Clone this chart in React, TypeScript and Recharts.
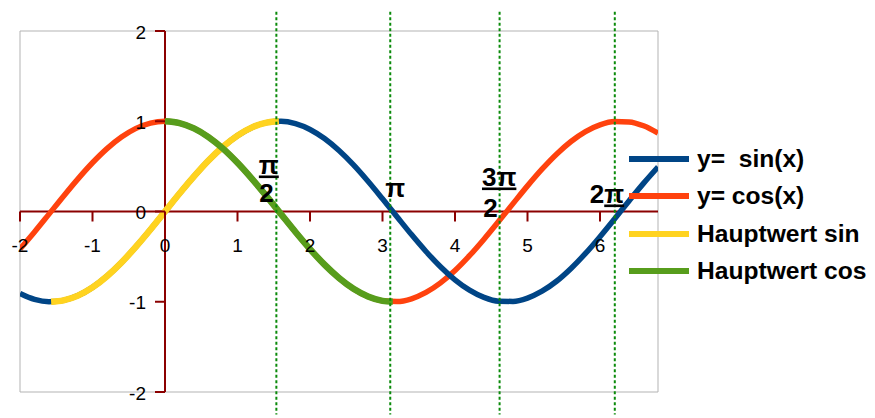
import React from 'react';
import {
  LineChart,
  Line,
  XAxis,
  YAxis,
  CartesianGrid,
  ReferenceLine,
  ReferenceDot,
  Legend,
} from 'recharts';

// Sample points of the full curves
const xValues = [
  -2.0, -1.8, -1.6, -1.4, -1.2, -1.0, -0.8, -0.6, -0.4, -0.2,
  0.0, 0.2, 0.4, 0.6, 0.8, 1.0, 1.2, 1.4, 1.6, 1.8,
  2.0, 2.2, 2.4, 2.6, 2.8, 3.0, 3.2, 3.4, 3.6, 3.8,
  4.0, 4.2, 4.4, 4.6, 4.8, 5.0, 5.2, 5.4, 5.6, 5.8,
  6.0, 6.2, 6.4, 6.6, 6.8,
];
const sinValues = [
  -0.909, -0.974, -1.0, -0.985, -0.932, -0.841, -0.717, -0.565, -0.389, -0.199,
  0.0, 0.199, 0.389, 0.565, 0.717, 0.841, 0.932, 0.985, 1.0, 0.974,
  0.909, 0.808, 0.675, 0.516, 0.335, 0.141, -0.058, -0.256, -0.443, -0.612,
  -0.757, -0.872, -0.952, -0.994, -0.996, -0.959, -0.883, -0.773, -0.631, -0.465,
  -0.279, -0.083, 0.117, 0.312, 0.494,
];
const cosValues = [
  -0.416, -0.227, -0.029, 0.17, 0.362, 0.54, 0.697, 0.825, 0.921, 0.98,
  1.0, 0.98, 0.921, 0.825, 0.697, 0.54, 0.362, 0.17, -0.029, -0.227,
  -0.416, -0.589, -0.737, -0.857, -0.942, -0.99, -0.998, -0.967, -0.897, -0.791,
  -0.654, -0.49, -0.307, -0.112, 0.087, 0.284, 0.469, 0.635, 0.776, 0.886,
  0.96, 0.997, 0.993, 0.95, 0.869,
];

// Principal branches
const hwSinX = [-1.571, -1.4, -1.2, -1.0, -0.8, -0.6, -0.4, -0.2, 0.0, 0.2, 0.4, 0.6, 0.8, 1.0, 1.2, 1.4, 1.571];
const hwSinY = [-1.0, -0.985, -0.932, -0.841, -0.717, -0.565, -0.389, -0.199, 0.0, 0.199, 0.389, 0.565, 0.717, 0.841, 0.932, 0.985, 1.0];
const hwCosX = [0.0, 0.2, 0.4, 0.6, 0.8, 1.0, 1.2, 1.4, 1.6, 1.8, 2.0, 2.2, 2.4, 2.6, 2.8, 3.0, 3.142];
const hwCosY = [1.0, 0.98, 0.921, 0.825, 0.697, 0.54, 0.362, 0.17, -0.029, -0.227, -0.416, -0.589, -0.737, -0.857, -0.942, -0.99, -1.0];

const seriesNames = ['y=  sin(x)', 'y= cos(x)', 'Hauptwert sin', 'Hauptwert cos'];
const seriesColors = ['#004586', '#ff420e', '#ffd320', '#579d1c'];

const xTicks = [-2, -1, 0, 1, 2, 3, 4, 5, 6];
const xTickLabels = ['-2', '-1', '0', '1', '2', '3', '4', '5', '6'];
const yTicks = [-2, -1, 0, 1, 2];
const yTickLabels = ['-2', '-1', '0', '1', '2'];
const xMin = -2;
const xMax = 6.8;
const yMin = -2;
const yMax = 2;

// Dotted markers at the multiples of pi/2
const markX = [1.536, 3.107, 4.615, 6.204];
const markTop = 2.214;
const markBottom = -2.25;

const mainRows = xValues.map((x, i) => ({ x, sin: sinValues[i], cos: cosValues[i] }));
const hwSinRows = hwSinX.map((x, i) => ({ x, v: hwSinY[i] }));
const hwCosRows = hwCosX.map((x, i) => ({ x, v: hwCosY[i] }));

const AXIS_COLOR = '#8b0000';
const GRID_COLOR = '#b3b3b3';
const MARK_COLOR = '#0a8a0a';
const FONT = '"Liberation Sans", Arial, sans-serif';

const XTick = ({ cx, cy, text }: any) => (
  <g>
    <line x1={cx} y1={cy} x2={cx} y2={cy + 10} stroke={AXIS_COLOR} strokeWidth={2} />
    <text x={cx} y={cy + 40} textAnchor="middle" fontSize={19} fill="#000" fontFamily={FONT}>
      {text}
    </text>
  </g>
);

const YTick = ({ cx, cy, text }: any) => (
  <g>
    <line x1={cx - 10} y1={cy} x2={cx} y2={cy} stroke={AXIS_COLOR} strokeWidth={2} />
    <text x={cx - 19} y={cy + 7.5} textAnchor="end" fontSize={19} fill="#000" fontFamily={FONT}>
      {text}
    </text>
  </g>
);

const labelStyle = { fontSize: 26, fontWeight: 700, fill: '#000', fontFamily: FONT } as const;
const under = { textDecoration: 'underline' } as const;

const PiLabel = ({ cx, cy, idx }: any) => {
  if (idx === 0) {
    return (
      <g>
        <text x={cx - 17.5} y={cy - 38} {...labelStyle} style={under}>π</text>
        <text x={cx - 17} y={cy - 10} {...labelStyle}>2</text>
      </g>
    );
  }
  if (idx === 1) {
    return <text x={cx - 5} y={cy - 15} {...labelStyle}>π</text>;
  }
  if (idx === 2) {
    return (
      <g>
        <text x={cx - 17.6} y={cy - 26} {...labelStyle} style={under}>3π</text>
        <text x={cx - 16.3} y={cy + 5} {...labelStyle}>2</text>
      </g>
    );
  }
  return (
    <text x={cx - 25} y={cy - 9} {...labelStyle}>
      2<tspan style={under}>π</tspan>
    </text>
  );
};

const LegendBox = () => (
  <div style={{ fontFamily: FONT }}>
    {seriesNames.map((name, i) => (
      <div key={name} style={{ display: 'flex', alignItems: 'center', height: 37.5 }}>
        <div style={{ width: 60, height: 6, background: seriesColors[i], marginRight: 8, flex: 'none' }} />
        <span style={{ fontSize: 24.6, fontWeight: 700, color: '#000', whiteSpace: 'pre' }}>{name}</span>
      </div>
    ))}
  </div>
);

export default function App() {
  return (
    <LineChart
      width={867}
      height={410}
      margin={{ top: 23, right: 217, bottom: 26, left: 12 }}
      style={{ fontFamily: FONT }}
    >
      <XAxis
        type="number"
        dataKey="x"
        domain={[xMin, xMax]}
        ticks={[...xTicks, xMax]}
        allowDataOverflow
        height={0}
        tick={false}
        tickLine={false}
        axisLine={false}
      />
      <YAxis
        type="number"
        domain={[yMin, yMax]}
        ticks={yTicks}
        allowDataOverflow
        width={0}
        tick={false}
        tickLine={false}
        axisLine={false}
      />
      <CartesianGrid stroke={GRID_COLOR} strokeWidth={1} />
      <ReferenceLine y={0} stroke={AXIS_COLOR} strokeWidth={2} />
      <ReferenceLine x={0} stroke={AXIS_COLOR} strokeWidth={2} />
      {xTicks.map((t, i) => (
        <ReferenceDot
          key={'xt' + t}
          x={t}
          y={0}
          ifOverflow="visible"
          shape={(p: any) => <XTick cx={p.cx} cy={p.cy} text={xTickLabels[i]} />}
        />
      ))}
      {yTicks.map((t, i) => (
        <ReferenceDot
          key={'yt' + t}
          x={0}
          y={t}
          ifOverflow="visible"
          shape={(p: any) => <YTick cx={p.cx} cy={p.cy} text={yTickLabels[i]} />}
        />
      ))}
      {/* cosine first so the sine curve lies on top where they cross */}
      <Line data={mainRows} dataKey="cos" name={seriesNames[1]} type="monotone" stroke={seriesColors[1]} strokeWidth={5.5} dot={false} isAnimationActive={false} />
      <Line data={mainRows} dataKey="sin" name={seriesNames[0]} type="monotone" stroke={seriesColors[0]} strokeWidth={5.5} dot={false} isAnimationActive={false} />
      <Line data={hwSinRows} dataKey="v" name={seriesNames[2]} type="monotone" stroke={seriesColors[2]} strokeWidth={6.5} dot={false} isAnimationActive={false} />
      <Line data={hwCosRows} dataKey="v" name={seriesNames[3]} type="monotone" stroke={seriesColors[3]} strokeWidth={6.5} dot={false} isAnimationActive={false} />
      {markX.map((mx) => (
        <ReferenceLine
          key={'m' + mx}
          segment={[{ x: mx, y: markTop }, { x: mx, y: markBottom }]}
          ifOverflow="visible"
          stroke={MARK_COLOR}
          strokeWidth={2}
          strokeDasharray="3 2.5"
        />
      ))}
      {markX.map((mx, i) => (
        <ReferenceDot
          key={'pl' + mx}
          x={mx}
          y={0}
          ifOverflow="visible"
          shape={(p: any) => <PiLabel cx={p.cx} cy={p.cy} idx={i} />}
        />
      ))}
      <Legend
        layout="vertical"
        align="center"
        verticalAlign="middle"
        wrapperStyle={{ left: 621, top: 132, width: 246 }}
        content={() => <LegendBox />}
      />
    </LineChart>
  );
}
